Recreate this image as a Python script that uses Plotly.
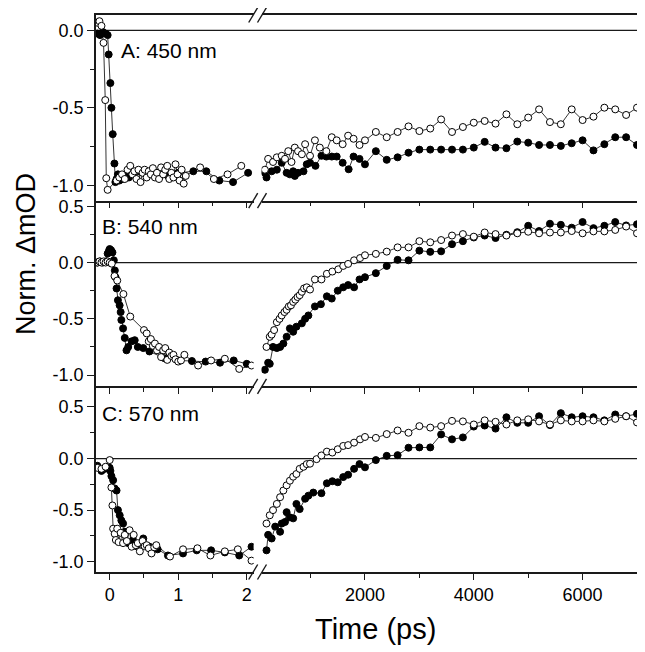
import plotly.graph_objects as go

# ---------------- data ----------------
LATE_T = [2200, 2400, 2600, 2800, 3000, 3200, 3400, 3600, 3800, 4000, 4200, 4400, 4600,
          4800, 5000, 5200, 5400, 5600, 5800, 6000, 6200, 6400, 6600, 6800, 7000]

# Panel A: 450 nm
A_solid_left_t = [-0.18, -0.14, -0.10, -0.06, -0.03, -0.015, 0.01, 0.025, 0.044, 0.069, 0.083, 0.10, 0.12, 0.14,
                  0.16, 0.19, 0.23, 0.28, 0.35, 0.44, 0.55, 0.70, 0.85, 1.0, 1.22, 1.41, 1.60, 1.80, 2.02]
A_solid_left_v = [-0.02, -0.03, -0.01, -0.02, -0.03, -0.155, -0.34, -0.50, -0.67, -0.86, -0.98, -0.96, -0.93, -0.97,
                  -0.94, -0.96, -0.93, -0.95, -0.92, -0.91, -0.93, -0.92, -0.94, -0.92, -0.91, -0.91, -0.97, -0.98, -0.92]
A_open_left_t = [-0.18, -0.15, -0.12, -0.09, -0.065, -0.05, -0.03, 0.10, 0.14, 0.18, 0.22, 0.26, 0.30, 0.33, 0.36,
                 0.39, 0.42, 0.45, 0.48, 0.51, 0.54, 0.57, 0.60, 0.63, 0.66, 0.69, 0.72, 0.75, 0.78, 0.81, 0.84,
                 0.87, 0.90, 0.93, 0.96, 0.99, 1.02, 1.05, 1.08, 1.11, 1.32, 1.52, 1.72, 1.92]
A_open_left_v = [0.05, 0.06, 0.03, -0.08, -0.45, -0.955, -1.03, -0.97, -0.95, -0.93, -0.96, -0.90, -0.875, -0.93,
                 -0.91, -0.96, -0.90, -0.98, -0.92, -0.90, -0.95, -0.91, -0.93, -0.89, -0.95, -0.92, -0.96, -0.885,
                 -0.93, -0.90, -0.875, -0.96, -0.92, -0.95, -0.865, -0.93, -0.97, -0.90, -0.99, -0.94, -0.885,
                 -0.96, -0.93, -0.875]
A_solid_right_t = [160, 190, 285, 380, 470, 560, 620, 680, 710, 770, 870, 930, 990, 1090, 1200, 1290, 1390, 1480,
                   1590, 1700, 1790, 1900, 2000] + LATE_T
A_solid_right_v = [-0.92, -0.95, -0.91, -0.90, -0.855, -0.92, -0.93, -0.91, -0.94, -0.92, -0.91, -0.865, -0.855,
                   -0.875, -0.81, -0.815, -0.815, -0.815, -0.855, -0.897, -0.815, -0.83, -0.865,
                   -0.78, -0.836, -0.82, -0.79, -0.77, -0.77, -0.77, -0.77, -0.77, -0.757, -0.72, -0.757, -0.761,
                   -0.718, -0.725, -0.74, -0.74, -0.746, -0.729, -0.71, -0.775, -0.735, -0.69, -0.69, -0.74]
A_open_right_t = [160, 220, 310, 380, 470, 530, 590, 650, 710, 770, 840, 900, 990, 1080, 1170, 1290, 1390, 1480,
                  1590, 1690, 1790, 1900, 2000] + LATE_T
A_open_right_v = [-0.90, -0.83, -0.85, -0.82, -0.81, -0.83, -0.78, -0.85, -0.757, -0.78, -0.80, -0.735, -0.81,
                  -0.71, -0.757, -0.78, -0.69, -0.71, -0.735, -0.68, -0.70, -0.74, -0.71,
                  -0.656, -0.69, -0.656, -0.62, -0.65, -0.634, -0.575, -0.656, -0.624, -0.596, -0.585, -0.602,
                  -0.542, -0.606, -0.563, -0.51, -0.592, -0.606, -0.51, -0.579, -0.557, -0.499, -0.51, -0.546, -0.499]

# Panel B: 540 nm
B_solid_left_t = [-0.18, -0.14, -0.10, -0.06, -0.03, -0.01, 0.0, 0.02, 0.04, 0.06, 0.075, 0.085, 0.10, 0.12, 0.145,
                  0.16, 0.17, 0.195, 0.22, 0.245, 0.27, 0.32, 0.365, 0.41, 0.49, 0.58, 0.8, 1.0, 1.2, 1.4, 1.61,
                  1.81, 2.0]
B_solid_left_v = [0.0, 0.01, 0.0, 0.01, 0.08, 0.105, 0.12, 0.11, 0.09, 0.02, -0.07, -0.13, -0.23, -0.335, -0.38,
                  -0.44, -0.51, -0.585, -0.67, -0.78, -0.75, -0.70, -0.69, -0.75, -0.76, -0.79, -0.85, -0.87,
                  -0.875, -0.88, -0.89, -0.87, -0.90]
B_open_left_t = [-0.18, -0.15, -0.12, -0.09, -0.06, -0.03, 0.0, 0.03, 0.07, 0.11, 0.20, 0.30, 0.50, 0.54, 0.57,
                 0.60, 0.63, 0.66, 0.69, 0.72, 0.75, 0.78, 0.81, 0.84, 0.87, 0.90, 0.93, 0.96, 1.00, 1.04, 1.09,
                 1.29, 1.48, 1.68, 1.89, 2.07]
B_open_left_v = [0.0, 0.01, 0.0, 0.01, 0.0, 0.01, 0.0, -0.01, -0.12, -0.16, -0.28, -0.48, -0.60, -0.63, -0.70,
                 -0.68, -0.74, -0.72, -0.78, -0.75, -0.84, -0.78, -0.76, -0.865, -0.80, -0.83, -0.82, -0.86,
                 -0.88, -0.87, -0.82, -0.915, -0.87, -0.855, -0.945, -0.915]
B_solid_right_t = [160, 220, 250, 310, 380, 440, 500, 560, 620, 680, 740, 840, 900, 960, 1080, 1190, 1300, 1390,
                   1500, 1600, 1690, 1800, 1900, 2000] + LATE_T
B_solid_right_v = [-0.953, -0.89, -0.90, -0.75, -0.76, -0.75, -0.72, -0.66, -0.585, -0.615, -0.57, -0.54, -0.50,
                   -0.47, -0.39, -0.37, -0.30, -0.32, -0.25, -0.22, -0.20, -0.22, -0.15, -0.13,
                   -0.094, -0.03, 0.024, 0.02, 0.106, 0.095, 0.10, 0.163, 0.19, 0.223, 0.24, 0.218, 0.247, 0.27,
                   0.327, 0.28, 0.345, 0.335, 0.31, 0.36, 0.306, 0.327, 0.36, 0.33, 0.34]
B_open_right_t = [190, 250, 285, 330, 380, 430, 470, 520, 560, 600, 640, 680, 720, 760, 800, 840, 880, 930, 990,
                  1080, 1200, 1300, 1400, 1510, 1600, 1690, 1800, 1910, 2000] + LATE_T
B_open_right_v = [-0.75, -0.66, -0.64, -0.60, -0.53, -0.50, -0.47, -0.44, -0.42, -0.39, -0.38, -0.35, -0.33,
                  -0.306, -0.29, -0.26, -0.23, -0.22, -0.24, -0.15, -0.15, -0.10, -0.08, -0.06, -0.03, -0.012,
                  0.02, 0.04, 0.065,
                  0.077, 0.097, 0.135, 0.135, 0.19, 0.18, 0.20, 0.24, 0.253, 0.23, 0.267, 0.253, 0.24, 0.26,
                  0.274, 0.26, 0.267, 0.267, 0.28, 0.26, 0.277, 0.277, 0.29, 0.32, 0.26]

# Panel C: 570 nm
C_solid_left_t = [-0.18, -0.12, -0.07, -0.04, 0.0, 0.01, 0.025, 0.05, 0.073, 0.10, 0.12, 0.146, 0.17, 0.195, 0.22,
                  0.27, 0.34, 0.39, 0.49, 0.58, 0.70, 0.85, 1.07, 1.27, 1.48, 1.68, 1.89, 2.07]
C_solid_left_v = [-0.07, -0.12, -0.10, -0.087, -0.09, -0.12, -0.17, -0.21, -0.29, -0.31, -0.50, -0.55, -0.60,
                  -0.63, -0.71, -0.82, -0.79, -0.85, -0.775, -0.855, -0.88, -0.94, -0.92, -0.89, -0.89, -0.91,
                  -0.94, -0.855]
C_open_left_t = [-0.18, -0.12, -0.06, 0.0, 0.025, 0.04, 0.05, 0.073, 0.09, 0.11, 0.13, 0.16, 0.195, 0.22, 0.25,
                 0.29, 0.32, 0.35, 0.38, 0.41, 0.44, 0.48, 0.51, 0.54, 0.57, 0.61, 0.65, 0.68, 0.88, 1.07, 1.28,
                 1.47, 1.68, 1.87, 2.07]
C_open_left_v = [-0.09, -0.10, -0.08, -0.015, -0.28, -0.455, -0.68, -0.73, -0.79, -0.68, -0.81, -0.72, -0.82,
                 -0.74, -0.80, -0.695, -0.855, -0.74, -0.84, -0.82, -0.90, -0.80, -0.85, -0.84, -0.87, -0.92,
                 -0.86, -0.84, -0.95, -0.88, -0.87, -0.94, -0.90, -0.88, -0.99]
C_solid_right_t = [190, 220, 285, 350, 440, 470, 530, 560, 620, 680, 740, 800, 900, 960, 1050, 1200, 1300, 1400,
                   1500, 1600, 1690, 1800, 1900, 2000] + LATE_T
C_solid_right_v = [-0.89, -0.74, -0.775, -0.66, -0.71, -0.63, -0.615, -0.52, -0.57, -0.58, -0.44, -0.49, -0.39,
                   -0.36, -0.33, -0.336, -0.24, -0.22, -0.23, -0.18, -0.157, -0.10, -0.054, -0.085,
                   -0.015, 0.026, 0.033, 0.105, 0.108, 0.108, 0.234, 0.186, 0.205, 0.31, 0.32, 0.29, 0.40, 0.346,
                   0.346, 0.41, 0.324, 0.44, 0.40, 0.41, 0.40, 0.37, 0.427, 0.41, 0.433]
C_open_right_t = [190, 250, 310, 380, 440, 500, 560, 620, 680, 740, 800, 870, 930, 990, 1110, 1200, 1300, 1400,
                  1500, 1600, 1690, 1800, 1910, 2000] + LATE_T
C_open_right_v = [-0.63, -0.55, -0.50, -0.44, -0.375, -0.31, -0.26, -0.215, -0.176, -0.15, -0.10, -0.08, -0.054,
                  -0.05, -0.006, 0.03, 0.067, 0.058, 0.09, 0.122, 0.13, 0.154, 0.186, 0.209,
                  0.20, 0.237, 0.272, 0.25, 0.314, 0.30, 0.314, 0.365, 0.36, 0.33, 0.37, 0.356, 0.33, 0.37, 0.38,
                  0.36, 0.33, 0.37, 0.36, 0.36, 0.37, 0.36, 0.385, 0.41, 0.35]

PANEL_LABELS = ["A: 450 nm", "B: 540 nm", "C: 570 nm"]
Y_RANGES = [[-1.1, 0.1], [-1.1, 0.55], [-1.1, 0.7]]
Y_TICKVALS = [[0.0, -0.5, -1.0], [0.5, 0.0, -0.5, -1.0], [0.5, 0.0, -0.5, -1.0]]
Y_TICKTEXT = [["0.0", "-0.5", "-1.0"], ["0.5", "0.0", "-0.5", "-1.0"], ["0.5", "0.0", "-0.5", "-1.0"]]
Y_MINOR = [[-0.25, -0.75], [0.25, -0.25, -0.75], [0.25, -0.25, -0.75]]
XL_RANGE = [-0.2, 2.1]
XL_TICKS = [0, 1, 2]
XL_MINOR = [0.5, 1.5]
XR_RANGE = [100, 7000]
XR_TICKS = [2000, 4000, 6000]
XR_MINOR = [1000, 3000, 5000]

panels = [
    (A_solid_left_t, A_solid_left_v, A_open_left_t, A_open_left_v,
     A_solid_right_t, A_solid_right_v, A_open_right_t, A_open_right_v),
    (B_solid_left_t, B_solid_left_v, B_open_left_t, B_open_left_v,
     B_solid_right_t, B_solid_right_v, B_open_right_t, B_open_right_v),
    (C_solid_left_t, C_solid_left_v, C_open_left_t, C_open_left_v,
     C_solid_right_t, C_solid_right_v, C_open_right_t, C_open_right_v),
]

# ---------------- layout geometry ----------------
# The page body has an 8px default margin, so the figure is shifted by it.
OFF = 8
W, H = 645 - OFF, 652 - OFF
ML, MR, MT, MB = 96 - OFF, 8, 15 - OFF, 80
PW, PH = W - ML - MR, H - MT - MB
PLOT_L, PLOT_T = 96, 15   # plot area position in the screenshot


def px2x(px):
    return (px - PLOT_L) / PW


def py2y(py):
    return 1 - (py - PLOT_T) / PH


XL_END = px2x(253.6)
XR_START = px2x(261.6)
FONT = "Arial, Liberation Sans, Helvetica, sans-serif"
LINE_C = "#1a1a1a"
LW = 1.6

fig = go.Figure()
layout = dict(
    width=W, height=H,
    margin=dict(l=ML, r=MR, t=MT, b=MB, autoexpand=False),
    paper_bgcolor="white", plot_bgcolor="white",
    showlegend=False,
    font=dict(family=FONT, size=18, color="black"),
)

shapes = []
annotations = []

for r in range(3):
    kl, kr = 2 * r + 1, 2 * r + 2
    dom = [1 - (r + 1) / 3, 1 - r / 3]
    s_lt, s_lv, o_lt, o_lv, s_rt, s_rv, o_rt, o_rv = panels[r]
    for (xs, ys, k, filled) in [(s_lt, s_lv, kl, True), (o_lt, o_lv, kl, False),
                                (s_rt, s_rv, kr, True), (o_rt, o_rv, kr, False)]:
        fig.add_trace(go.Scatter(
            x=xs, y=ys, xaxis=f"x{k}", yaxis=f"y{k}", mode="lines+markers",
            line=dict(color="black", width=0.8),
            marker=dict(symbol="circle", size=7,
                        color="black" if filled else "white",
                        line=dict(color="black", width=1)),
        ))
    bottom = (r == 2)
    common_x = dict(showline=True, mirror=(r == 0), linecolor=LINE_C, linewidth=LW,
                    ticks="outside", ticklen=6, tickwidth=1.3, tickcolor=LINE_C,
                    showgrid=False, zeroline=False, showticklabels=bottom,
                    tickfont=dict(size=18, family=FONT, color="black"))
    layout[f"xaxis{kl}"] = dict(common_x, domain=[0, XL_END], range=XL_RANGE, anchor=f"y{kl}",
                                tickmode="array", tickvals=XL_TICKS,
                                ticktext=[str(v) for v in XL_TICKS],
                                minor=dict(tickvals=XL_MINOR, ticks="outside", ticklen=4,
                                           tickcolor=LINE_C, tickwidth=1.3, showgrid=False))
    layout[f"xaxis{kr}"] = dict(common_x, domain=[XR_START, 1], range=XR_RANGE, anchor=f"y{kr}",
                                tickmode="array", tickvals=XR_TICKS,
                                ticktext=[str(v) for v in XR_TICKS],
                                minor=dict(tickvals=XR_MINOR, ticks="outside", ticklen=4,
                                           tickcolor=LINE_C, tickwidth=1.3, showgrid=False))
    layout[f"yaxis{kl}"] = dict(domain=dom, range=Y_RANGES[r], anchor=f"x{kl}",
                                showline=True, mirror=False, linecolor=LINE_C, linewidth=LW,
                                ticks="outside", ticklen=7, tickwidth=1.3, tickcolor=LINE_C,
                                tickmode="array", tickvals=Y_TICKVALS[r], ticktext=Y_TICKTEXT[r],
                                minor=dict(tickvals=Y_MINOR[r], ticks="outside", ticklen=4,
                                           tickcolor=LINE_C, tickwidth=1.3, showgrid=False),
                                showgrid=False, zeroline=False,
                                tickfont=dict(size=18, family=FONT, color="black"))
    layout[f"yaxis{kr}"] = dict(domain=dom, range=Y_RANGES[r], anchor=f"x{kr}", side="right",
                                showline=True, linecolor=LINE_C, linewidth=LW,
                                ticks="", showticklabels=False, showgrid=False, zeroline=False)
    # zero line across the whole panel
    shapes.append(dict(type="line", xref="paper", x0=0, x1=1, yref=f"y{kl}", y0=0, y1=0,
                       line=dict(color=LINE_C, width=1.3), layer="below"))
    # panel label
    lab_x = 119 if r == 0 else 100
    lab_y = [50, 226, 413][r]
    annotations.append(dict(text=PANEL_LABELS[r], xref="paper", yref="paper",
                            x=px2x(lab_x), y=py2y(lab_y), xanchor="left", yanchor="middle",
                            showarrow=False, font=dict(size=21, family=FONT, color="black")))

# axis break marks on every horizontal frame line
for py in [PLOT_T, PLOT_T + PH / 3, PLOT_T + 2 * PH / 3, PLOT_T + PH]:
    for cx in [253.2, 262.0]:
        shapes.append(dict(type="line", xref="paper", yref="paper",
                           x0=px2x(cx - 4.5), y0=py2y(py + 7.5), x1=px2x(cx + 4.5), y1=py2y(py - 7.5),
                           line=dict(color=LINE_C, width=1.4)))

annotations.append(dict(text="Time (ps)", xref="paper", yref="paper", x=px2x(375), y=py2y(629),
                        xanchor="center", yanchor="middle", showarrow=False,
                        font=dict(size=29, family=FONT, color="black")))
annotations.append(dict(text="Norm. ΔmOD", xref="paper", yref="paper", x=px2x(26), y=py2y(254),
                        xanchor="center", yanchor="middle", textangle=-90, showarrow=False,
                        font=dict(size=27, family=FONT, color="black")))

layout["shapes"] = shapes
layout["annotations"] = annotations
fig.update_layout(**layout)
fig.write_html("out.html")
